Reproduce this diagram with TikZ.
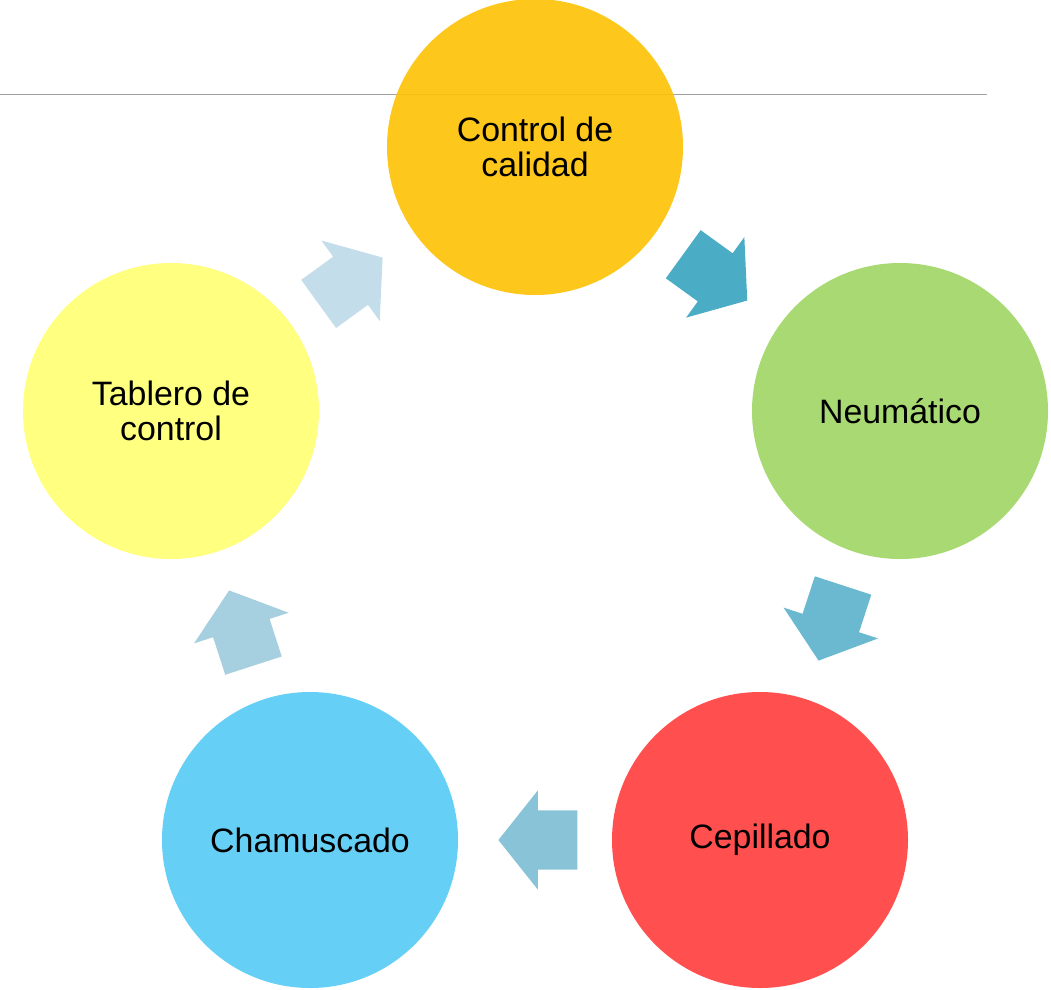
\documentclass[tikz,border=0pt]{standalone}
\usepackage{fontspec}
\setmainfont{Liberation Sans}
\usetikzlibrary{shapes.arrows}
\definecolor{cqual}{RGB}{253,194,8}
\definecolor{cneu}{RGB}{168,217,115}
\definecolor{ccep}{RGB}{255,79,79}
\definecolor{ccha}{RGB}{102,207,245}
\definecolor{ctab}{RGB}{255,255,128}
\definecolor{aone}{RGB}{75,172,198}
\definecolor{atwo}{RGB}{107,185,208}
\definecolor{athree}{RGB}{137,195,215}
\definecolor{afour}{RGB}{166,207,224}
\definecolor{afive}{RGB}{195,221,234}
\definecolor{rulegray}{RGB}{160,160,160}
\tikzset{
  stage/.style={circle, minimum size=296bp, inner sep=0pt, align=center,
    font=\fontsize{34}{35}\selectfont, text=black},
  cyc/.style={single arrow, sloped, allow upside down, pos=0.74, anchor=tip,
    inner sep=0pt, minimum height=79bp, single arrow head extend=20bp,
    single arrow tip angle=103, fill=#1, draw=none}
}
\newcommand\shaftw{\rule{0pt}{59bp}}
\begin{document}
\begin{tikzpicture}[x=1bp,y=-1bp]
\useasboundingbox (0,0) rectangle (1051,990);
\coordinate (rl) at (0,94.5);
\coordinate (rr) at (987,94.5);
\draw[rulegray, line width=1.5bp] (rl) -- (rr);
\node[stage, fill=cqual, fill opacity=0.92, text opacity=1] (q) at (535,147) {Control de\\calidad};
\node[stage, fill=cneu] (n) at (900,411) {Neumático};
\node[stage, fill=ccep] (c) at (760,840) {Cepillado};
\node[stage, fill=ccha] (h) at (310,840) {Chamuscado};
\node[stage, fill=ctab] (t) at (171,411) {Tablero de\\control};
\path (q) -- node[cyc=aone] (a1) {\shaftw} (n);
\path (n) -- node[cyc=atwo] (a2) {\shaftw} (c);
\path (c) -- node[cyc=athree] (a3) {\shaftw} (h);
\path (h) -- node[cyc=afour] (a4) {\shaftw} (t);
\path (t) -- node[cyc=afive] (a5) {\shaftw} (q);
\end{tikzpicture}
\end{document}
